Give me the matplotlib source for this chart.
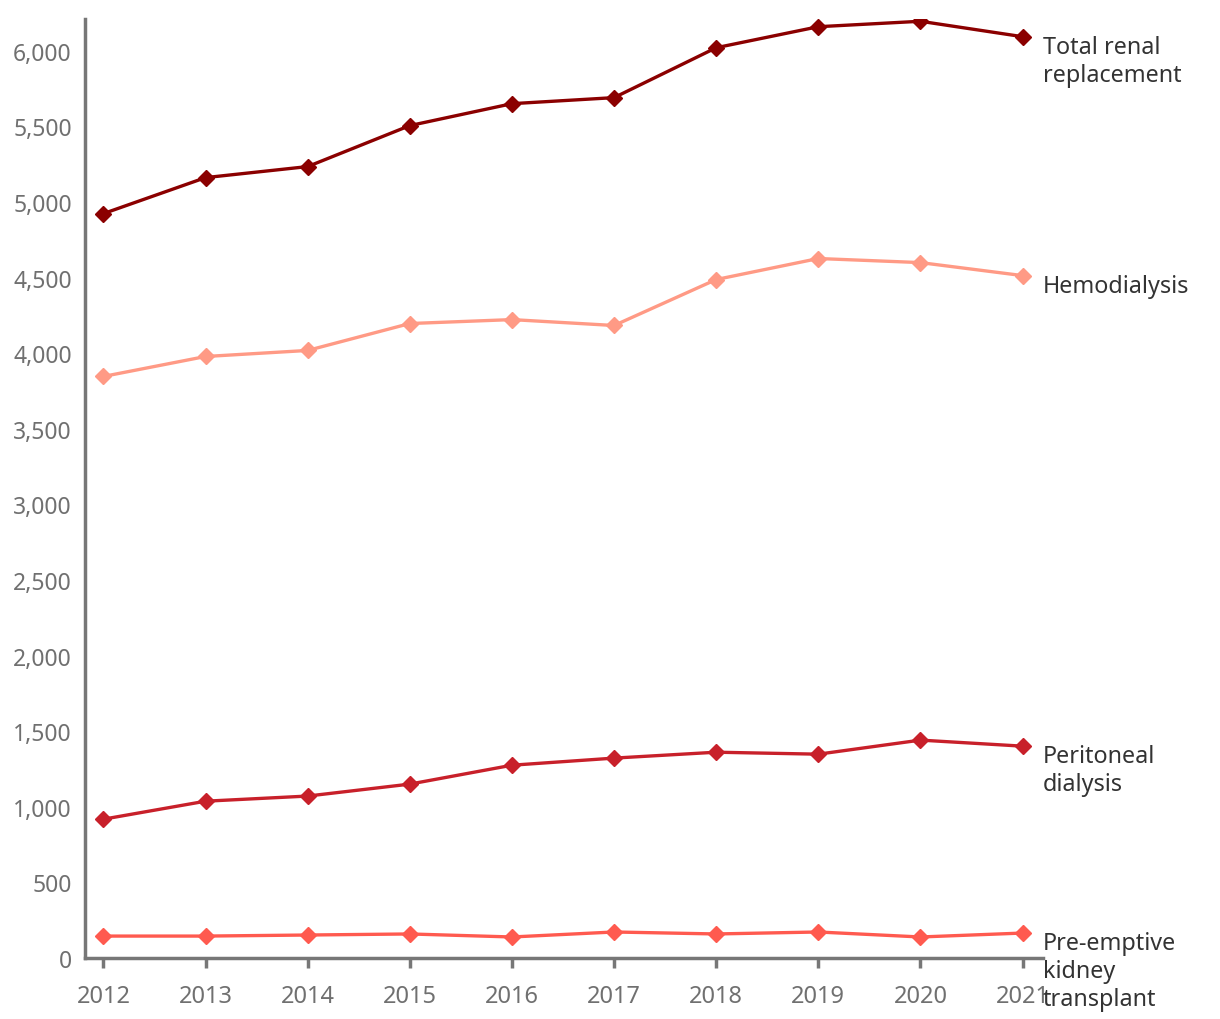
import numpy as np
import matplotlib.pyplot as plt
from matplotlib.ticker import FuncFormatter

plt.rcParams['font.family'] = ['Noto Sans', 'DejaVu Sans']

years = [2012, 2013, 2014, 2015, 2016, 2017, 2018, 2019, 2020, 2021]
total = [4923, 5161, 5234, 5505, 5650, 5690, 6020, 6159, 6195, 6093]
hemo = [3846, 3978, 4018, 4196, 4222, 4183, 4487, 4626, 4599, 4513]
perit = [918, 1037, 1071, 1150, 1275, 1322, 1361, 1348, 1441, 1401]
preempt = [145, 145, 152, 159, 139, 172, 159, 172, 139, 165]

series = [
    ("Total renal\nreplacement", total, "#8b0000"),
    ("Hemodialysis", hemo, "#ff9a85"),
    ("Peritoneal\ndialysis", perit, "#c8202a"),
    ("Pre-emptive\nkidney\ntransplant", preempt, "#ff5a4f"),
]

fig = plt.figure(figsize=(12.2, 10.2), dpi=100)
ax = fig.add_axes([85 / 1220, 1 - 959 / 1020, (1043 - 85) / 1220, (959 - 20) / 1020])

for name, vals, col in series:
    ax.plot(years, vals, color=col, lw=2.4, marker="D", ms=8, zorder=3)
    ax.annotate(name, (years[-1], vals[-1]), xytext=(20, 2), textcoords="offset pixels",
                va="top", ha="left", fontsize=16.8, color="#333333",
                linespacing=1.22, annotation_clip=False)

ax.set_xlim(2011.82, 2021.2)
ax.set_ylim(0, 6210)
ax.set_xticks(years)
ax.set_yticks(np.arange(0, 6001, 500))
ax.yaxis.set_major_formatter(FuncFormatter(lambda v, p: f"{int(v):,}"))

for s in ["top", "right"]:
    ax.spines[s].set_visible(False)
for s in ["left", "bottom"]:
    ax.spines[s].set_color("#777777")
    ax.spines[s].set_linewidth(2.5)

ax.tick_params(axis="x", length=7, width=2.5, color="#777777", labelcolor="#707070",
               labelsize=17, pad=12)
ax.tick_params(axis="y", length=0, labelcolor="#707070", labelsize=16.5, pad=9.5)

fig.savefig("out.png", dpi=100)
